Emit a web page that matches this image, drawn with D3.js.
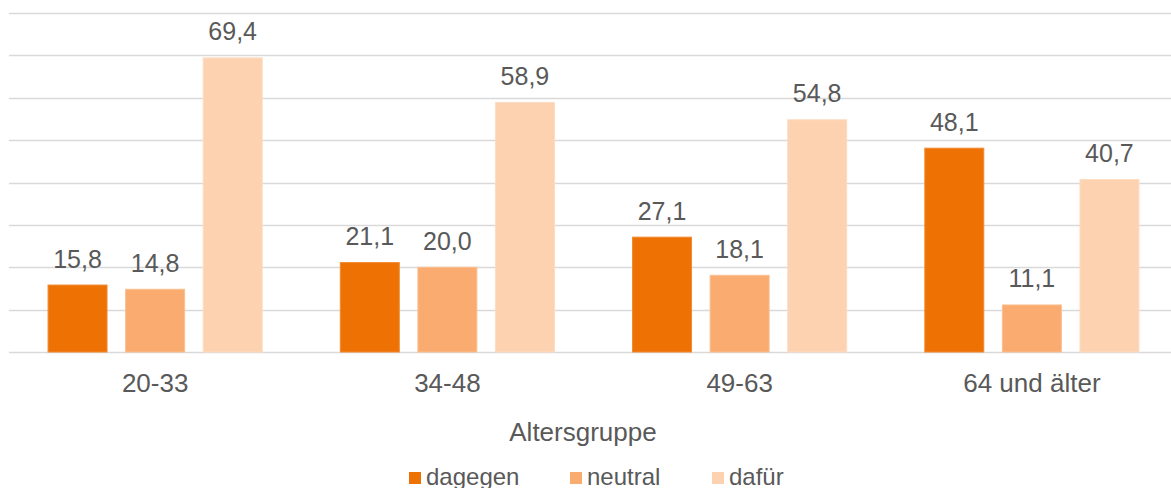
<!DOCTYPE html>
<html>
<head>
<meta charset="utf-8">
<script src="https://cdn.jsdelivr.net/npm/d3@7"></script>
<style>
  html, body { margin: 0; padding: 0; background: #fff; }
  svg { display: block; font-family: "Liberation Sans", Arial, sans-serif; }
</style>
</head>
<body>
<svg id="chart" width="1171" height="488"></svg>
<script>
// Age groups and opinion shares (percent)
const categories = ["20-33", "34-48", "49-63", "64 und älter"];
const seriesNames = ["dagegen", "neutral", "dafür"];
const dagegen = [15.8, 21.1, 27.1, 48.1];
const neutral = [14.8, 20.0, 18.1, 11.1];
const dafuer = [69.4, 58.9, 54.8, 40.7];
const yTicks = [0, 10, 20, 30, 40, 50, 60, 70, 80];
const colors = ["#ED7103", "#F9AB70", "#FCD2B0"];
const strokes = ["#F08A33", "#FBBE8F", "#FDDCC2"];

const seriesValues = [dagegen, neutral, dafuer];
const FONT = "'Liberation Sans', Arial, sans-serif";
const TEXT = "#595959";

const svg = d3.select("#chart");
const plotLeft = 9, plotRight = 1178, plotTop = 13, plotBottom = 352;

const x0 = d3.scaleBand().domain(categories).range([plotLeft, plotRight]).paddingInner(0).paddingOuter(0);
const x1 = d3.scaleBand().domain(seriesNames).range([0, x0.bandwidth()]).paddingInner(0.227).paddingOuter(0.497);
const y = d3.scaleLinear().domain([0, 80]).range([plotBottom, plotTop]);

// horizontal gridlines
svg.append("g").selectAll("line").data(yTicks).join("line")
  .attr("x1", plotLeft).attr("x2", 1171)
  .attr("y1", d => Math.round(y(d)) + 0.5).attr("y2", d => Math.round(y(d)) + 0.5)
  .attr("stroke", "#D9D9D9").attr("stroke-width", 1.5);

const fmt = v => v.toFixed(1).replace(".", ",");

const groups = svg.append("g").selectAll("g").data(categories).join("g")
  .attr("transform", d => `translate(${x0(d)},0)`);

groups.each(function(cat, ci) {
  const g = d3.select(this);
  seriesNames.forEach((s, si) => {
    const v = seriesValues[si][ci];
    g.append("rect")
      .attr("x", x1(s) + 0.5)
      .attr("y", y(v))
      .attr("width", x1.bandwidth() - 1)
      .attr("height", plotBottom - y(v))
      .attr("fill", colors[si])
      .attr("stroke", strokes[si])
      .attr("stroke-width", 1);
    g.append("text")
      .attr("x", x1(s) + x1.bandwidth() / 2)
      .attr("y", y(v) - 17.5)
      .attr("text-anchor", "middle")
      .attr("font-size", 25)
      .attr("fill", TEXT)
      .text(fmt(v));
  });
});

// category axis labels
const xAxis = d3.axisBottom(x0).tickSize(0).tickPadding(0);
const ax = svg.append("g").attr("transform", `translate(0,${plotBottom})`).call(xAxis)
  .attr("font-family", FONT);
ax.select(".domain").remove();
ax.selectAll("text")
  .attr("y", 40)
  .attr("dy", 0)
  .attr("font-size", 26)
  .attr("fill", TEXT);

// axis title
svg.append("text")
  .attr("x", 583).attr("y", 441)
  .attr("text-anchor", "middle")
  .attr("font-size", 26)
  .attr("fill", TEXT)
  .text("Altersgruppe");

// legend
const legendX = [409, 570, 712];
const legend = svg.append("g").selectAll("g").data(seriesNames).join("g")
  .attr("transform", (d, i) => `translate(${legendX[i]},472)`);
legend.append("rect")
  .attr("x", 0).attr("y", 0).attr("width", 12).attr("height", 12)
  .attr("fill", (d, i) => colors[i]);
legend.append("text")
  .attr("x", 17).attr("y", 13)
  .attr("font-size", 24)
  .attr("fill", TEXT)
  .text(d => d);
</script>
</body>
</html>
